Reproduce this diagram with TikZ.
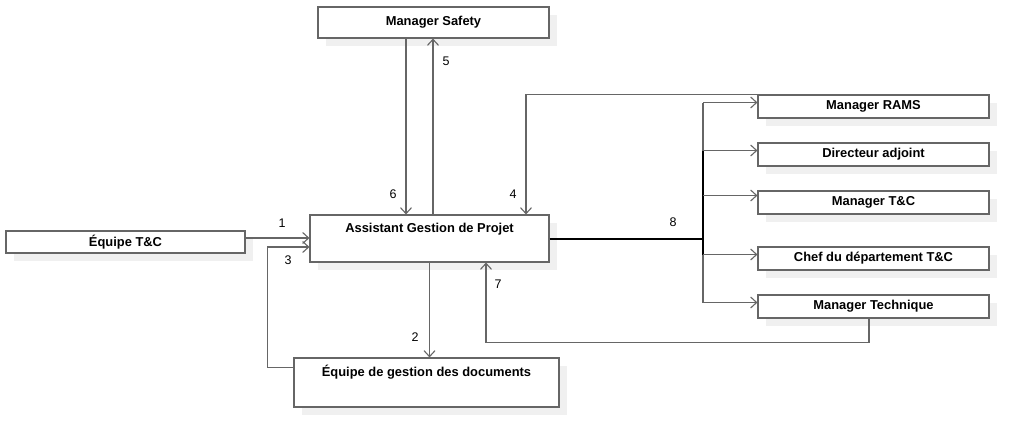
\documentclass[tikz,border=0pt]{standalone}
\usepackage{fontspec}
\setmainfont{Liberation Sans}
\usetikzlibrary{arrows.meta, calc, shadows}
\definecolor{linegray}{HTML}{666666}
\definecolor{shadowgray}{HTML}{F0F0F0}

\begin{document}
\begin{tikzpicture}[
		x=1pt, y=-1pt,
		box/.style={draw=linegray, fill=white, line width=1.1pt, inner sep=0pt, minimum width=231pt, minimum height=23pt,
			font=\fontsize{12.9}{14}\selectfont\bfseries,
			general shadow={fill=shadowgray, shadow xshift=8pt, shadow yshift=-8pt}},
		wire/.style={draw=linegray, line width=1.1pt},
		flow/.style={wire, -{Straight Barb[length=6pt, width=11pt]}},
		bus/.style={draw=black, line width=2pt},
		num/.style={inner sep=0pt, font=\fontsize{12.5}{14}\selectfont},
		>=Stealth
		]
		\useasboundingbox (0,0) rectangle (1020,437);
		
		% Boxes
		\node[box, minimum height=31pt] (safety) at (433.5,22.5) {Manager Safety};
		\node[box, minimum width=239pt, minimum height=22pt] (equipe) at (125.5,242) {Équipe T\&C};
		\node[box, minimum width=239pt, minimum height=47pt, text height=17pt, text depth=30pt] (agp) at (429.5,238.5) {Assistant Gestion de Projet};
		\node[box, minimum width=265pt, minimum height=49pt, text height=18pt, text depth=31pt] (docs) at (426.5,382.5) {Équipe de gestion des documents};
		
		% Recipients on the right
		\node[box] (rams) at (873.5,106.5) {Manager RAMS};
		\node[box] (dadj) at (873.5,154.5) {Directeur adjoint};
		\node[box] (mtc) at (873.5,202.5) {Manager T\&C};
		\node[box] (chef) at (873.5,258.5) {Chef du département T\&C};
		\node[box] (mtech) at (873.5,306.5) {Manager Technique};
		
		% Flows around the assistant
		\draw[flow] ([yshift=4pt]equipe.east) -- ([yshift=4pt]equipe.east -| agp.west);
		\draw[flow] (agp.south) -- (agp.south |- docs.north);
		\draw[flow] ([yshift=15pt]docs.west) -- ++(-26,0) |- ([yshift=-8.5pt]agp.west);
		\draw[flow] (rams.north west) -| ([xshift=96.5pt]agp.north);
		\draw[flow] ([xshift=3.5pt]agp.north) -- ([xshift=3.5pt]agp.north |- safety.south);
		\draw[flow] ([xshift=-27.5pt]safety.south) -- ([xshift=-27.5pt]safety.south |- agp.north);
		\draw[flow] ([xshift=-4.5pt]mtech.south) -- ++(0,24) -| ([xshift=56.5pt]agp.south);
		
		% Distribution fork (8)
		\coordinate (fork) at (703,238.5);
		\draw[wire] ([yshift=4pt]rams.west -| fork) -- ([yshift=4pt]mtech.west -| fork);
		\draw[bus] ([yshift=4pt]dadj.west -| fork) -- ([yshift=4pt]chef.west -| fork);
		\draw[bus] (agp.east) -- (fork);
		\foreach \b/\s in {rams/4pt, dadj/4pt, mtc/7pt, chef/4pt, mtech/4pt}
		\draw[flow] ([yshift=\s]\b.west -| fork) -- ([yshift=\s]\b.west);
		
		% Flow numbers
		\node[num] (n1) at (282,223) {1};
		\node[num] (n2) at (415,337) {2};
		\node[num] (n3) at (288,260) {3};
		\node[num] (n4) at (513,194) {4};
		\node[num] (n5) at (446,61) {5};
		\node[num] (n6) at (393,194) {6};
		\node[num] (n7) at (498,284) {7};
		\node[num] (n8) at (673,222) {8};
	\end{tikzpicture}
\end{document}
